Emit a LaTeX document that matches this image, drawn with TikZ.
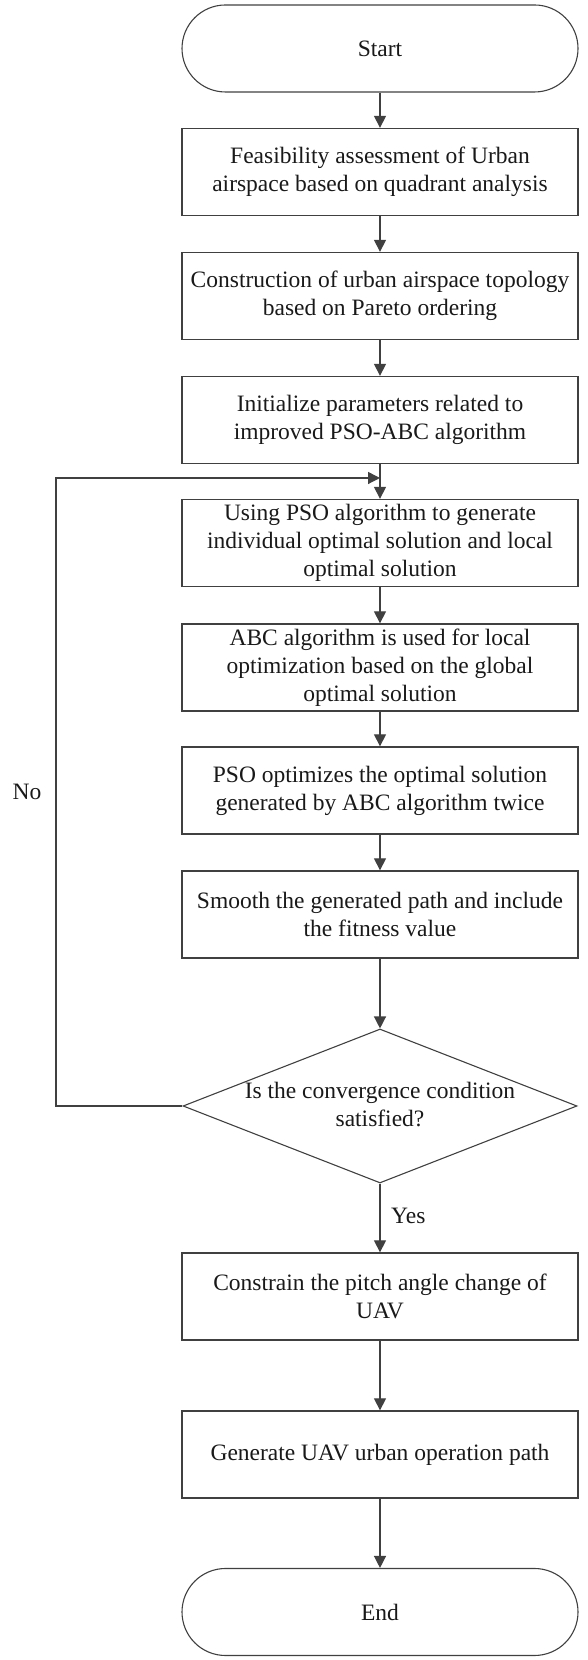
\documentclass[tikz,border=0pt]{standalone}
\usepackage{fontspec}
\setmainfont{Liberation Serif}
\usetikzlibrary{arrows.meta,shapes.geometric}
\begin{document}
\begin{tikzpicture}[x=1pt,y=1pt,
  every node/.style={font=\fontsize{23.5}{28}\selectfont, text=black!90},
  procbox/.style={draw=black!75, line width=1.3pt, rectangle, minimum width=396pt, minimum height=87pt, align=center, inner sep=0pt},
  termbox/.style={draw=black!75, line width=1.1pt, rectangle, rounded corners=43.5pt, minimum width=396pt, minimum height=87pt, align=center, inner sep=0pt},
  decbox/.style={draw=black!75, line width=1.1pt, diamond, minimum width=394pt, minimum height=154pt, inner sep=0pt},
  arr/.style={draw=black!75, line width=1.3pt, -{Triangle[width=12pt,length=12pt]}},
  conn/.style={draw=black!75, line width=1.3pt}
]
\useasboundingbox (0,0) rectangle (587,1660);
\node[termbox] (start) at (380,1611.5) {Start};
\node[procbox] (b1) at (380,1488) {Feasibility assessment of Urban\\airspace based on quadrant analysis};
\node[procbox] (b2) at (380,1364) {Construction of urban airspace topology\\based on Pareto ordering};
\node[procbox] (b3) at (380,1240) {Initialize parameters related to\\improved PSO-ABC algorithm};
\node[procbox] (b4) at (380,1117) {Using PSO algorithm to generate\\individual optimal solution and local\\optimal solution};
\node[procbox] (b5) at (380,992.5) {ABC algorithm is used for local\\optimization based on the global\\optimal solution};
\node[procbox] (b6) at (380,869.5) {PSO optimizes the optimal solution\\generated by ABC algorithm twice};
\node[procbox] (b7) at (380,745.5) {Smooth the generated path and include\\the fitness value};
\node[decbox] (dia) at (380,554) {};
\node[align=center, inner sep=0pt] (diatext) at (380,555) {Is the convergence condition\\satisfied?};
\node[procbox] (c1) at (380,363.5) {Constrain the pitch angle change of\\UAV};
\node[procbox] (g1) at (380,205.5) {Generate UAV urban operation path};
\node[termbox] (end) at (380,48) {End};
\node[anchor=west, inner sep=0pt] (yes) at (391,444) {Yes};
\node[inner sep=0pt] (no) at (27,868) {No};
\coordinate (lc) at (56,554);
\coordinate (lt) at (380,1182);
\draw[arr] (start) -- (b1);
\draw[arr] (b1) -- (b2);
\draw[arr] (b2) -- (b3);
\draw[arr] (b3) -- (b4);
\draw[arr] (b4) -- (b5);
\draw[arr] (b5) -- (b6);
\draw[arr] (b6) -- (b7);
\draw[arr] (b7) -- (dia.north);
\draw[arr] (dia.south) -- (c1);
\draw[arr] (c1) -- (g1);
\draw[arr] (g1) -- (end);
\draw[arr] (dia.west) -- (lc) |- (lt);
\end{tikzpicture}
\end{document}
